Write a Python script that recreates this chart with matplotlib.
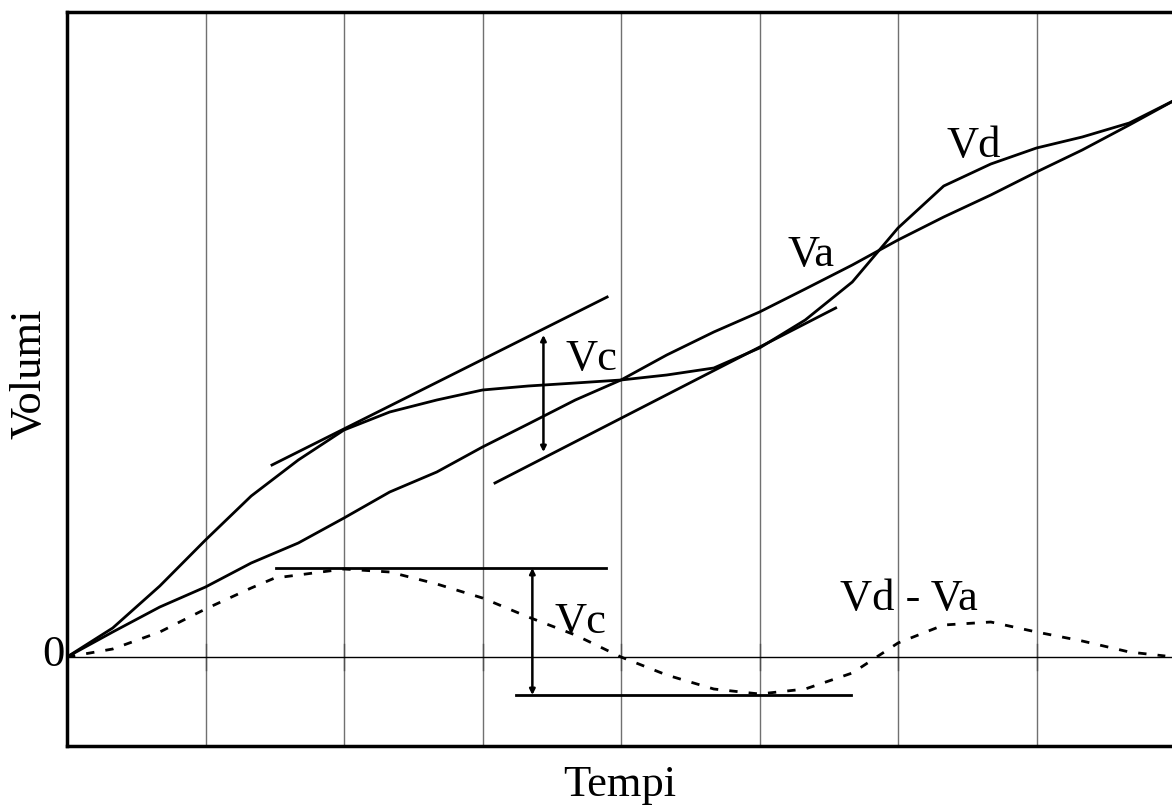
import matplotlib
matplotlib.use('Agg')
import matplotlib.pyplot as plt

plt.rcParams['font.family'] = ['Liberation Serif', 'DejaVu Serif']

# tempi (unità di griglia) e volumi
t = [0, 0.33, 0.67, 1, 1.33, 1.67, 2, 2.33, 2.67, 3, 3.33, 3.67, 4,
     4.33, 4.67, 5, 5.33, 5.67, 6, 6.33, 6.67, 7, 7.33, 7.67, 8]
vd = [0, 0.29, 0.71, 1.17, 1.61, 1.97, 2.27, 2.45, 2.57, 2.67, 2.71, 2.74, 2.77,
      2.82, 2.89, 3.09, 3.37, 3.75, 4.29, 4.71, 4.93, 5.09, 5.20, 5.34, 5.57]
va = [0, 0.25, 0.50, 0.70, 0.94, 1.14, 1.39, 1.65, 1.85, 2.10, 2.33, 2.57, 2.77,
      3.02, 3.25, 3.45, 3.68, 3.92, 4.17, 4.40, 4.62, 4.85, 5.07, 5.32, 5.57]

t_diff = [0, 0.33, 0.67, 1, 1.33, 1.5, 1.67, 2, 2.33, 2.67, 3, 3.33, 3.67, 4,
          4.33, 4.67, 5, 5.33, 5.67, 6, 6.33, 6.67, 7, 7.33, 7.67, 7.93]
diff = [0, 0.08, 0.25, 0.48, 0.69, 0.79, 0.82, 0.88, 0.85, 0.73, 0.59, 0.40, 0.22, 0.0,
        -0.18, -0.32, -0.37, -0.32, -0.16, 0.14, 0.32, 0.35, 0.25, 0.16, 0.05, 0.01]

# tangenti parallele e livelli di Vc
tang1_t, tang1_v = [1.48, 3.90], [1.92, 3.60]
tang2_t, tang2_v = [3.09, 5.55], [1.74, 3.49]
vc_max, vc_min = 0.89, -0.38
hmax_t = [1.51, 3.89]
hmin_t = [3.24, 5.66]

fig = plt.figure(figsize=(11.72, 8.11), dpi=100)
ax = fig.add_axes([67 / 1172, 65 / 811, 1108 / 1172, 734 / 811])
ax.set_xlim(0, 8)
ax.set_ylim(-0.89, 6.45)

for g in range(1, 8):
    ax.axvline(g, color='#707070', lw=1, zorder=1)
    ax.plot([g, g], [-0.13, 0.13], color='#505050', lw=1, zorder=1)
ax.axhline(0, color='black', lw=1, zorder=1)

ax.plot(t, vd, color='black', lw=2, zorder=3)
ax.plot(t, va, color='black', lw=2, zorder=3)
ax.plot(t_diff, diff, color='black', lw=2, linestyle=(0, (3, 4)), zorder=3)

ax.plot(tang1_t, tang1_v, color='black', lw=2, zorder=3)
ax.plot(tang2_t, tang2_v, color='black', lw=2, zorder=3)
ax.plot(hmax_t, [vc_max, vc_max], color='black', lw=2, zorder=3)
ax.plot(hmin_t, [vc_min, vc_min], color='black', lw=2, zorder=3)

arrow = dict(arrowstyle='<|-|>', color='black', lw=1.8, mutation_scale=8,
             shrinkA=0, shrinkB=0)
ax.annotate('', xy=(3.44, 3.22), xytext=(3.44, 2.05), arrowprops=arrow)
ax.annotate('', xy=(3.36, vc_max), xytext=(3.36, vc_min), arrowprops=arrow)

fs = 32
ax.text(5.20, 3.91, 'Va', fontsize=fs, va='baseline')
ax.text(6.35, 5.00, 'Vd', fontsize=fs, va='baseline')
ax.text(5.58, 0.47, 'Vd - Va', fontsize=fs, va='baseline')
ax.text(3.60, 2.87, 'Vc', fontsize=fs, va='baseline')
ax.text(3.52, 0.24, 'Vc', fontsize=fs, va='baseline')
ax.text(-0.015, -0.09, '0', fontsize=fs, ha='right', va='baseline')

ax.set_xticks([])
ax.set_yticks([])
for s in ['left', 'top', 'bottom', 'right']:
    ax.spines[s].set_linewidth(2.5)

fig.text(620 / 1172, 1 - 785 / 811, 'Tempi', fontsize=32, ha='center', va='center')
fig.text(30 / 1172, 1 - 374 / 811, 'Volumi', fontsize=32, ha='center', va='center',
         rotation=90)

fig.savefig('out.png', dpi=100)
